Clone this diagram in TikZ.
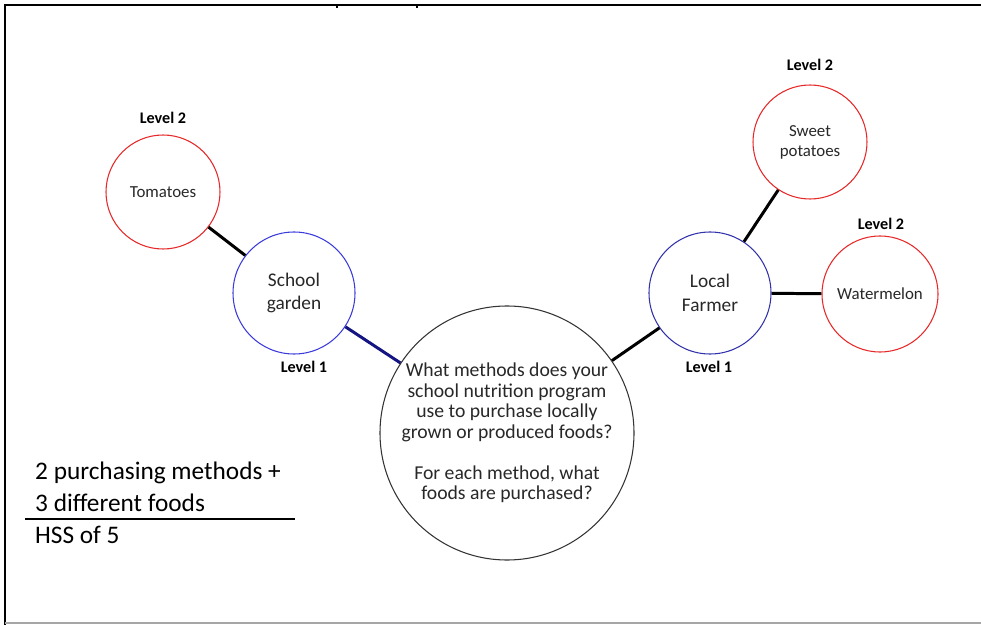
\documentclass[tikz,border=0pt]{standalone}
\usepackage{fontspec}
\setmainfont{Carlito}

\definecolor{levelone}{RGB}{60,60,220}
\definecolor{farmerblue}{RGB}{50,50,170}
\definecolor{leveltwo}{RGB}{230,40,40}
\definecolor{linknavy}{RGB}{20,20,130}
\definecolor{txtgray}{RGB}{40,40,40}

\tikzset{
  hub/.style={circle, draw=black!80, line width=0.6pt, fill=white, minimum size=254*0.02cm, inner sep=0pt, align=center, text=txtgray, font=\fontsize{11.2}{11.7}\selectfont},
  methodnode/.style={circle, draw=levelone, line width=0.6pt, fill=white, minimum size=122*0.02cm, inner sep=0pt, align=center, text=txtgray, font=\fontsize{11}{13.6}\selectfont},
  foodnode/.style={circle, draw=leveltwo, line width=0.6pt, fill=white, minimum size=114*0.02cm, inner sep=0pt, align=center, text=txtgray, font=\fontsize{9.6}{11.4}\selectfont},
  levellabel/.style={font=\bfseries\fontsize{9.2}{11}\selectfont, text=black},
  link/.style={line width=1.7pt, black}
}

\begin{document}
\begin{tikzpicture}[x=0.02cm, y=-0.02cm]

\useasboundingbox (0,0) rectangle (981,625);

% Frame
\draw[line width=1.2pt, black] (5,625) -- (5,5) -- (981,5);
\draw[line width=0.9pt, black!35] (5,623) -- (981,623);
\draw[line width=1pt] (337,5) -- (337,8);
\draw[line width=1pt] (417,5) -- (417,8);

% Question in the middle
\node[hub] (question) at (507,433) {What methods does your\\school nutrition program\\use to purchase locally\\grown or produced foods?\\[\baselineskip]For each method, what\\foods are purchased?};

% Level 1
\node[methodnode] (garden) at (294,293) {School\\garden};
\node[methodnode, draw=farmerblue] (farmer) at (710,293) {Local\\Farmer};

% Level 2
\node[foodnode] (tomatoes) at (163,192) {Tomatoes};
\node[foodnode] (sweet) at (810,142) {Sweet\\potatoes};
\node[foodnode, minimum size=116*0.02cm] (melon) at (880,294) {Watermelon};

% Links
\draw[link] (tomatoes) -- (garden);
\draw[link, linknavy] (garden) -- (question);
\draw[link] (question) -- (farmer);
\draw[link] (farmer) -- (sweet);
\draw[link] (farmer) -- (melon);

% Level labels
\node[levellabel] (lvtomatoes) at (163,118) {Level 2};
\node[levellabel] (lvgarden) at (304,367) {Level 1};
\node[levellabel] (lvsweet) at (810,65) {Level 2};
\node[levellabel] (lvmelon) at (881,224) {Level 2};
\node[levellabel] (lvfarmer) at (709,367) {Level 1};

% Score
\node[anchor=west, font=\fontsize{14.4}{17}\selectfont, text=black] (score1) at (29,473) {2 purchasing methods +};
\node[anchor=west, font=\fontsize{14.4}{17}\selectfont, text=black] (score2) at (29,503) {3 different foods};
\node[anchor=west, font=\fontsize{14.4}{17}\selectfont, text=black] (score3) at (29,535) {HSS of 5};
\draw[line width=1.5pt] (25,519) -- (295,519);

\end{tikzpicture}
\end{document}
